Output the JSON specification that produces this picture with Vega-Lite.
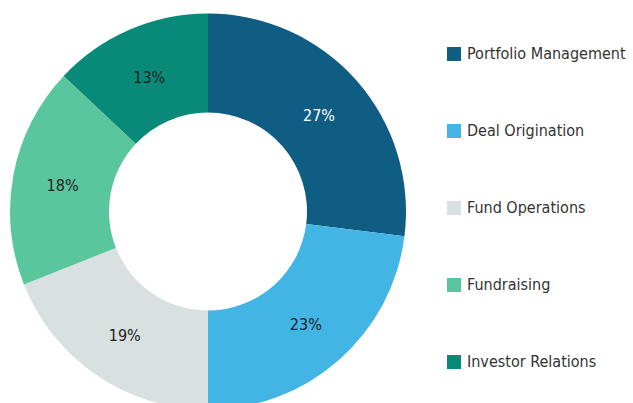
{
  "$schema": "https://vega.github.io/schema/vega-lite/v6.json",
  "width": 416,
  "height": 423,
  "padding": {"left": 0, "top": 0, "right": 217, "bottom": 0},
  "autosize": {"type": "none"},
  "background": "white",
  "view": {"stroke": null},
  "data": {"values": [
    {"category": "Portfolio Management", "share": 27, "rank": 1},
    {"category": "Deal Origination", "share": 23, "rank": 2},
    {"category": "Fund Operations", "share": 19, "rank": 3},
    {"category": "Fundraising", "share": 18, "rank": 4},
    {"category": "Investor Relations", "share": 13, "rank": 5}
  ]},
  "transform": [{"calculate": "datum.share + '%'", "as": "lbl"}],
  "encoding": {
    "theta": {"field": "share", "type": "quantitative", "stack": true},
    "order": {"field": "rank", "type": "quantitative"},
    "color": {
      "field": "category", "type": "nominal",
      "scale": {
        "domain": ["Portfolio Management", "Deal Origination", "Fund Operations", "Fundraising", "Investor Relations"],
        "range": ["#0f5d82", "#43b5e5", "#d8e0e0", "#59c69e", "#098a78"]
      },
      "legend": {
        "title": null,
        "orient": "none",
        "legendX": 446,
        "legendY": 46,
        "symbolType": "square",
        "symbolSize": 196,
        "symbolStrokeWidth": 0,
        "symbolOpacity": 1,
        "labelFont": "DejaVu Sans Condensed",
        "labelFontSize": 16,
        "labelColor": "#333333",
        "labelOffset": 5,
        "rowPadding": 61,
        "labelLimit": 300
      }
    }
  },
  "layer": [
    {
      "mark": {"type": "arc", "outerRadius": 198, "innerRadius": 99, "stroke": null}
    },
    {
      "mark": {"type": "text", "radius": 148, "font": "DejaVu Sans Condensed", "fontSize": 16, "dy": 2},
      "encoding": {
        "text": {"field": "lbl", "type": "nominal"},
        "color": {
          "condition": {"test": "datum.category === 'Portfolio Management'", "value": "#ffffff"},
          "value": "#222222"
        }
      }
    }
  ]
}
